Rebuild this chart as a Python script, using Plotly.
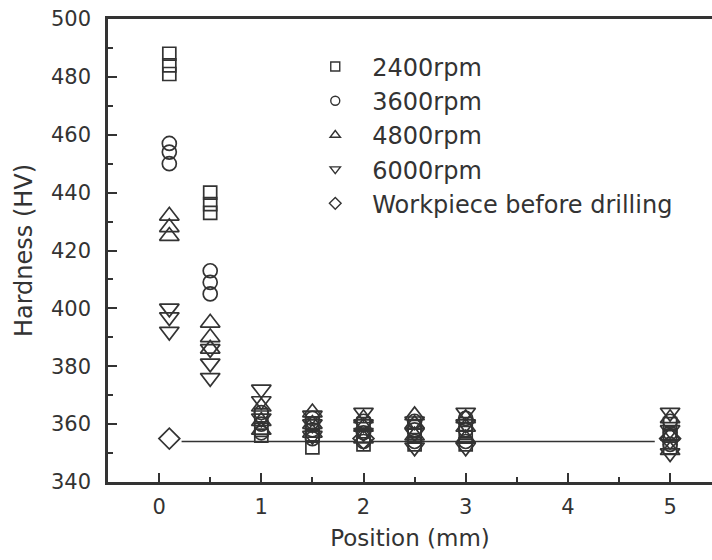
import plotly.graph_objects as go

# Positions (mm)
pos_a = [0.1, 0.1, 0.1, 0.5, 0.5, 0.5, 1, 1, 1, 1.5, 1.5, 1.5, 2, 2, 2, 2.5, 2.5, 2.5, 3, 3, 3, 5, 5, 5]

hv_2400 = [488, 484, 481, 440, 436, 433, 363, 358, 356, 352, 356, 360, 353, 356, 360, 353, 356, 359, 353, 357, 360, 352, 356, 360]
hv_3600 = [457, 454, 450, 413, 409, 405, 364, 360, 357, 355, 358, 362, 354, 357, 361, 354, 358, 361, 354, 358, 362, 353, 357, 361]
hv_4800 = [432, 428, 425, 395, 390, 386, 366, 361, 358, 357, 360, 364, 355, 359, 362, 356, 360, 363, 355, 359, 362, 351, 356, 362]
hv_6000 = [400, 397, 392, 386, 381, 376, 372, 368, 362, 356, 360, 363, 357, 360, 364, 352, 357, 361, 352, 360, 364, 350, 358, 364]

pos_work = [0.1, 2, 5]
hv_work = [355, 355, 355]

ref_line_x = [0.22, 4.85]
ref_line_y = [354, 354]

names = ["2400rpm", "3600rpm", "4800rpm", "6000rpm", "Workpiece before drilling"]
symbols = ["square-open", "circle-open", "triangle-up-open", "triangle-down-open", "diamond-open"]
sizes = [13, 14, 17, 17, 16]
series = [hv_2400, hv_3600, hv_4800, hv_6000]

ink = "#333333"
fig = go.Figure()

fig.add_trace(go.Scatter(x=ref_line_x, y=ref_line_y, mode="lines",
                         line=dict(color=ink, width=1.6), showlegend=False, hoverinfo="skip"))
fig.add_trace(go.Scatter(x=pos_work, y=hv_work, mode="markers", showlegend=False,
                         marker=dict(symbol="diamond", size=16, color="white",
                                     line=dict(color=ink, width=1.7))))
for vals, sym, sz in zip(series, symbols[:4], sizes[:4]):
    fig.add_trace(go.Scatter(x=pos_a, y=vals, mode="markers", showlegend=False,
                             marker=dict(symbol=sym, size=sz, color=ink,
                                         line=dict(color=ink, width=1.7))))

# legend entries (smaller symbols, as in the original legend)
for i, (nm, sym) in enumerate(zip(names, symbols)):
    fig.add_trace(go.Scatter(x=[None], y=[None], mode="markers", name=nm,
                             legendgroup=f"g{i}",
                             marker=dict(symbol=sym, size=9, color=ink,
                                         line=dict(color=ink, width=1.4))))

fig.update_layout(
    width=712, height=560,
    margin=dict(l=108, r=0, t=19, b=78),
    paper_bgcolor="white", plot_bgcolor="white",
    font=dict(family="DejaVu Sans, Arial, sans-serif", color=ink, size=20),
    showlegend=True,
    legend=dict(x=0.315, y=0.945, xanchor="left", yanchor="top",
                bgcolor="rgba(0,0,0,0)", font=dict(size=24, color=ink),
                tracegroupgap=0, itemwidth=64),
    xaxis=dict(range=[-0.5, 5.41], tick0=0, dtick=1, ticks="inside", ticklen=9,
               tickwidth=2, tickcolor=ink, showline=True, linewidth=2.5, linecolor=ink,
               mirror=True, showgrid=False, zeroline=False,
               tickfont=dict(size=21, color=ink), ticklabelstandoff=4,
               minor=dict(ticks="inside", dtick=0.5, tick0=0, ticklen=5, tickwidth=2, tickcolor=ink),
               title=dict(text="Position (mm)", font=dict(size=23, color=ink), standoff=12)),
    yaxis=dict(range=[340, 500], tick0=340, dtick=20, ticks="inside", ticklen=9,
               tickwidth=2, tickcolor=ink, showline=True, linewidth=2.5, linecolor=ink,
               mirror=False, showgrid=False, zeroline=False,
               tickfont=dict(size=21, color=ink), ticklabelstandoff=10,
               minor=dict(ticks="inside", dtick=10, tick0=340, ticklen=5, tickwidth=2, tickcolor=ink),
               title=dict(text="Hardness (HV)", font=dict(size=24, color=ink), standoff=12)),
)

fig.write_html("out.html")
